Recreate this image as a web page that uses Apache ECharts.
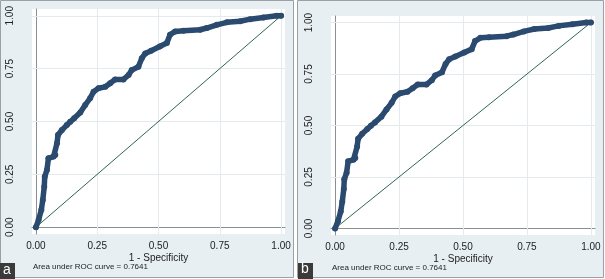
<!DOCTYPE html>
<html>
<head>
<meta charset="utf-8">
<script src="https://cdn.jsdelivr.net/npm/echarts@6/dist/echarts.min.js"></script>
<style>
  html, body { margin: 0; padding: 0; background: #fff; }
  #roc-chart { width: 605px; height: 279px; }
</style>
</head>
<body>
<div id="roc-chart"></div>
<script>
// ROC curve (same curve in both panels)
var fpr = [0, 0.011, 0.022, 0.028, 0.034, 0.036, 0.045, 0.051, 0.072, 0.079, 0.086, 0.090,
    0.106, 0.126, 0.140, 0.156, 0.181, 0.201, 0.221, 0.235, 0.255, 0.283, 0.303, 0.323,
    0.357, 0.378, 0.391, 0.418, 0.432, 0.446, 0.470, 0.505, 0.534, 0.547, 0.568, 0.602,
    0.670, 0.697, 0.738, 0.779, 0.833, 0.874, 0.928, 0.982, 1];
var tpr = [0, 0.035, 0.082, 0.129, 0.192, 0.239, 0.271, 0.326, 0.334, 0.342, 0.397, 0.436,
    0.460, 0.483, 0.499, 0.515, 0.543, 0.578, 0.610, 0.641, 0.657, 0.664, 0.681, 0.699,
    0.699, 0.720, 0.743, 0.759, 0.799, 0.822, 0.835, 0.855, 0.871, 0.910, 0.926, 0.929,
    0.934, 0.942, 0.957, 0.969, 0.974, 0.984, 0.992, 1.0, 1];
var diagX = [0, 1];
var diagY = [0, 1];
var tickValues = [0, 0.25, 0.5, 0.75, 1];
var gridValues = [0.25, 0.5, 0.75, 1];
var aucText = 'Area under ROC curve = 0.7641';
var xTitle = '1 - Specificity';
var panelLetters = ['a', 'b'];

var narrow = "'Liberation Sans Narrow', 'Arial Narrow', 'Liberation Sans', Arial, sans-serif";
var rocColor = '#2b4a6f';
var diagColor = '#2f6652';
var axisColor = '#8a8f93';
var panelBg = '#e7eff2';

function pairs(xs, ys) {
    return xs.map(function(x, i) { return [x, ys[i]]; });
}

function fmt(v) { return v.toFixed(2); }

function xAxisFor(gi) {
    return {
        type: 'value', gridIndex: gi, min: -0.016, max: 1.016,
        name: xTitle, nameLocation: 'middle', nameGap: 19, nameMoveOverlap: false,
        nameTextStyle: { fontFamily: narrow, fontSize: 10, color: '#222' },
        axisLine: { lineStyle: { color: axisColor, width: 1 } },
        axisTick: { show: true, length: 3, customValues: tickValues, lineStyle: { color: axisColor } },
        axisLabel: { customValues: tickValues, formatter: fmt, fontFamily: narrow, fontSize: 10, color: '#222', margin: 7 },
        splitLine: { show: false }
    };
}

function yAxisFor(gi) {
    return {
        type: 'value', gridIndex: gi, min: -0.032, max: 1.032,
        axisLine: { show: true, lineStyle: { color: axisColor, width: 1 } },
        axisTick: { show: true, length: 3, customValues: tickValues, lineStyle: { color: axisColor } },
        axisLabel: { customValues: tickValues, formatter: fmt, rotate: 90, fontFamily: narrow, fontSize: 10, color: '#222', margin: 17 },
        splitLine: { show: false }
    };
}

function gridMarks() {
    var d = [];
    gridValues.forEach(function(v) { d.push({ xAxis: v }); d.push({ yAxis: v }); });
    return d;
}

function seriesFor(gi) {
    return [{
        type: 'line', xAxisIndex: gi, yAxisIndex: gi, z: 2,
        data: pairs(diagX, diagY), symbol: 'none', silent: true,
        lineStyle: { color: diagColor, width: 1 },
        markLine: {
            silent: true, symbol: 'none', z: 1, label: { show: false },
            lineStyle: { color: '#e3ebef', width: 1, type: 'solid' },
            data: gridMarks()
        }
    }, {
        type: 'line', xAxisIndex: gi, yAxisIndex: gi, z: 3,
        data: pairs(fpr, tpr), symbol: 'circle', symbolSize: 6,
        itemStyle: { color: rocColor },
        lineStyle: { color: rocColor, width: 5.5, cap: 'round', join: 'round' }
    }];
}

var rocDiv = document.getElementById('roc-chart');
var rocChart = echarts.init(rocDiv, null, { renderer: 'canvas' });

var rocOption = {
    animation: false,
    backgroundColor: '#fff',
    grid: [
        { left: 32, right: 320, top: 9, bottom: 45, show: true, backgroundColor: '#fff', borderWidth: 0 },
        { left: 331, right: 10, top: 16, bottom: 44, show: true, backgroundColor: '#fff', borderWidth: 0 }
    ],
    xAxis: [xAxisFor(0), xAxisFor(1)],
    yAxis: [yAxisFor(0), yAxisFor(1)],
    series: seriesFor(0).concat(seriesFor(1)),
    graphic: [
        // panel backgrounds
        { type: 'rect', z: -10, shape: { x: 0.5, y: 0.5, width: 293, height: 277 },
          style: { fill: panelBg, stroke: '#9aa0a4', lineWidth: 1 } },
        { type: 'rect', z: -10, shape: { x: 297.5, y: 0.5, width: 306, height: 277 },
          style: { fill: panelBg, stroke: '#9aa0a4', lineWidth: 1 } },
        // AUC notes
        { type: 'text', left: 33, top: 263,
          style: { text: aucText, font: '8px ' + narrow, fill: '#222' } },
        { type: 'text', left: 332, top: 264,
          style: { text: aucText, font: '8px ' + narrow, fill: '#222' } },
        // panel letters
        { type: 'rect', z: 10, shape: { x: 0, y: 263, width: 15, height: 16 }, style: { fill: '#3a3a3a' } },
        { type: 'text', z: 11, left: 3, top: 263,
          style: { text: panelLetters[0], font: '14px Arial, sans-serif', fill: '#fff' } },
        { type: 'rect', z: 10, shape: { x: 298, y: 263, width: 15, height: 16 }, style: { fill: '#3a3a3a' } },
        { type: 'text', z: 11, left: 301, top: 262,
          style: { text: panelLetters[1], font: '14px Arial, sans-serif', fill: '#fff' } }
    ]
};

rocChart.setOption(rocOption);
</script>
</body>
</html>
